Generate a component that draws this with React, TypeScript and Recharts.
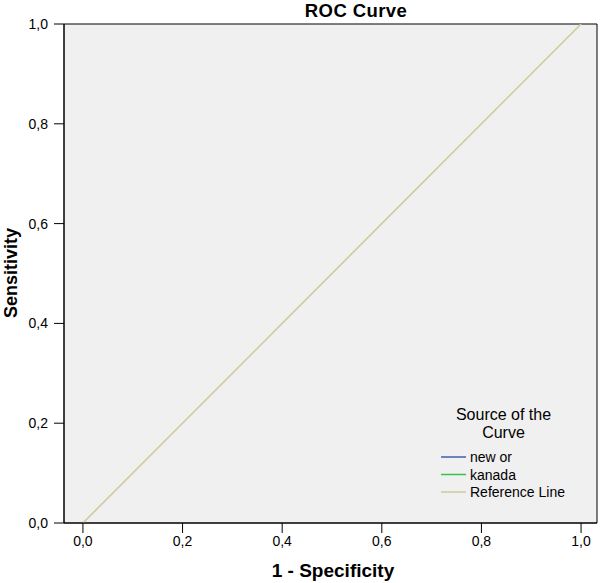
import React from 'react';
import { LineChart, Line, XAxis, YAxis, ReferenceArea } from 'recharts';

const seriesNames = ['new or', 'kanada', 'Reference Line'];
const seriesColors = ['#3f5fae', '#32c44c', '#cfcb9c'];
const refX = [0, 1];
const refY = [0, 1];
const newOrY: (number | null)[] = [null, null];
const kanadaY: (number | null)[] = [null, null];
const xTicks = [0, 0.2, 0.4, 0.6, 0.8, 1.0];
const yTicks = [0, 0.2, 0.4, 0.6, 0.8, 1.0];
const xDomain: [number, number] = [-0.038, 1.032];
const yDomain: [number, number] = [0, 1];
const titleText = 'ROC Curve';
const xLabel = '1 - Specificity';
const yLabel = 'Sensitivity';
const legendTitle = ['Source of the', 'Curve'];

const refData = refX.map((x, i) => ({ x, y: refY[i] }));
const newOrData = refX.map((x, i) => ({ x, y: newOrY[i] }));
const kanadaData = refX.map((x, i) => ({ x, y: kanadaY[i] }));

const FONT = '"Liberation Sans", Arial, sans-serif';
const fmt = (v: number) => v.toFixed(1).replace('.', ',');

export default function App() {
  return (
    <div style={{ position: 'absolute', left: 0, top: 0, width: 600, height: 583, background: '#fff', fontFamily: FONT }}>
      <LineChart width={600} height={583} margin={{ top: 24, right: 3, left: 0, bottom: 0 }}>
        <XAxis
          type="number"
          dataKey="x"
          domain={xDomain}
          allowDataOverflow
          ticks={xTicks}
          tickFormatter={fmt}
          height={60}
          tickSize={10}
          tickMargin={3}
          stroke="#000"
          tick={{ fill: '#000', fontSize: 14, fontFamily: FONT }}
          tickLine={{ stroke: '#000' }}
          axisLine={{ stroke: '#000' }}
        />
        <YAxis
          type="number"
          dataKey="y"
          domain={yDomain}
          allowDataOverflow
          ticks={yTicks}
          tickFormatter={fmt}
          width={64}
          tickSize={10}
          tickMargin={6}
          stroke="#000"
          tick={{ fill: '#000', fontSize: 14, fontFamily: FONT }}
          tickLine={{ stroke: '#000' }}
          axisLine={{ stroke: '#000' }}
        />
        <ReferenceArea x1={xDomain[0]} x2={xDomain[1]} y1={yDomain[0]} y2={yDomain[1]} fill="#f0f0f0" fillOpacity={1} stroke="#000" strokeWidth={1} ifOverflow="visible" />
        <Line data={newOrData} dataKey="y" name={seriesNames[0]} stroke={seriesColors[0]} strokeWidth={1.5} dot={false} isAnimationActive={false} />
        <Line data={kanadaData} dataKey="y" name={seriesNames[1]} stroke={seriesColors[1]} strokeWidth={1.5} dot={false} isAnimationActive={false} />
        <Line data={refData} dataKey="y" name={seriesNames[2]} stroke={seriesColors[2]} strokeWidth={1.6} dot={false} isAnimationActive={false} />
      </LineChart>
      <svg width={600} height={583} style={{ position: 'absolute', left: 0, top: 0, pointerEvents: 'none' }}>
        <text x={356} y={17} textAnchor="middle" fontSize={18.5} fontWeight="bold" fontFamily={FONT} fill="#000" style={{ letterSpacing: '0.4px' }}>{titleText}</text>
        <text x={333} y={577} textAnchor="middle" fontSize={19} fontWeight="bold" fontFamily={FONT} fill="#000">{xLabel}</text>
        <text x={17} y={273} textAnchor="middle" fontSize={18} fontWeight="bold" fontFamily={FONT} fill="#000" transform="rotate(-90 17 273)">{yLabel}</text>
        {legendTitle.map((t, i) => (
          <text key={t} x={503.5} y={419.5 + i * 18} textAnchor="middle" fontSize={16} fontFamily={FONT} fill="#000">{t}</text>
        ))}
        {seriesNames.map((n, i) => {
          const yy = 457 + i * 17.5;
          return (
            <g key={n}>
              <line x1={441} x2={466} y1={yy} y2={yy} stroke={seriesColors[i]} strokeWidth={1.5} />
              <text x={470} y={yy + 5} fontSize={14} fontFamily={FONT} fill="#000">{n}</text>
            </g>
          );
        })}
      </svg>
    </div>
  );
}
